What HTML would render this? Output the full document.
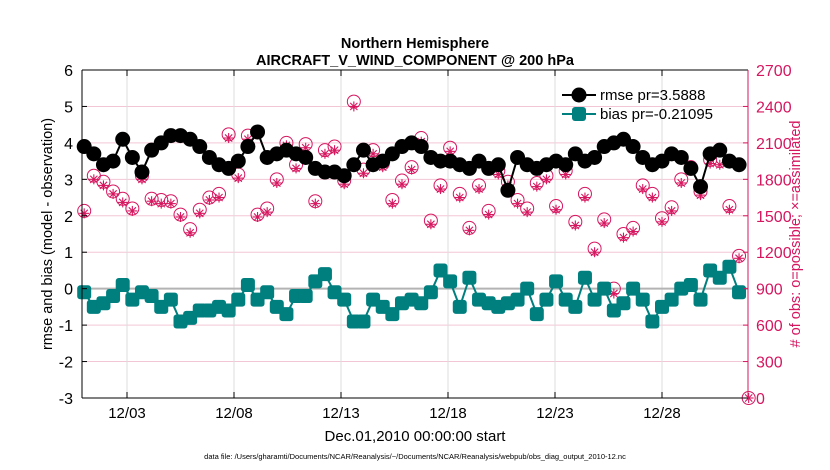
<!DOCTYPE html>
<html><head><meta charset="utf-8"><style>
html,body{margin:0;padding:0;background:#fff;}
svg{display:block;font-family:"Liberation Sans",sans-serif;}
</style></head><body>
<svg id="chart" width="830" height="470" viewBox="0 0 830 470">
<rect width="830" height="470" fill="#fff"/>
<text x="415" y="48" text-anchor="middle" font-size="14.5" font-weight="bold">Northern Hemisphere</text>
<text x="415" y="65" text-anchor="middle" font-size="14.5" font-weight="bold">AIRCRAFT_V_WIND_COMPONENT @ 200 hPa</text>
<g id="grid"></g>
<g id="series"></g>
<g id="axes"></g>
<text transform="translate(52,234) rotate(-90)" text-anchor="middle" font-size="14.5">rmse and bias (model - observation)</text>
<text transform="translate(800,234) rotate(-90)" text-anchor="middle" font-size="14.5" fill="#d6165f"># of obs: o=possible; ×=assimilated</text>
<text x="415" y="441" text-anchor="middle" font-size="15">Dec.01,2010 00:00:00 start</text>
<text x="415" y="459" text-anchor="middle" font-size="7.5">data file: /Users/gharamti/Documents/NCAR/Reanalysis/~/Documents/NCAR/Reanalysis/webpub/obs_diag_output_2010-12.nc</text>
<g id="legend">
<line x1="562" y1="95" x2="596" y2="95" stroke="#000" stroke-width="2"/>
<circle cx="579" cy="95" r="7.5" fill="#000"/>
<text x="600" y="100" font-size="15">rmse pr=3.5888</text>
<line x1="562" y1="114" x2="596" y2="114" stroke="#007f7f" stroke-width="2"/>
<rect x="572" y="107" width="14" height="14" rx="3" fill="#007f7f"/>
<text x="600" y="119" font-size="15">bias pr=-0.21095</text>
</g>
</svg>
<script>
const xTickLabels = ["12/03","12/08","12/13","12/18","12/23","12/28"];
const xTickDays = [2,7,12,17,22,27];
const leftTicks = [-3,-2,-1,0,1,2,3,4,5,6];
const rightTicks = [0,300,600,900,1200,1500,1800,2100,2400,2700];
const stepDays = 0.45;
const rmse = [3.9,3.7,3.4,3.5,4.1,3.6,3.2,3.8,4.0,4.2,4.2,4.1,3.9,3.6,3.4,3.3,3.5,3.9,4.3,3.6,3.7,3.8,3.7,3.6,3.3,3.2,3.2,3.1,3.4,3.8,3.4,3.5,3.7,3.9,4.0,3.9,3.6,3.5,3.5,3.4,3.3,3.5,3.3,3.4,2.7,3.6,3.4,3.3,3.4,3.5,3.4,3.7,3.5,3.6,3.9,4.0,4.1,3.9,3.6,3.4,3.5,3.7,3.6,3.3,2.8,3.7,3.8,3.5,3.4];
const bias = [-0.1,-0.5,-0.4,-0.2,0.1,-0.3,-0.1,-0.2,-0.5,-0.3,-0.9,-0.8,-0.6,-0.6,-0.5,-0.6,-0.3,0.1,-0.3,-0.1,-0.5,-0.7,-0.2,-0.2,0.2,0.4,-0.1,-0.3,-0.9,-0.9,-0.3,-0.5,-0.7,-0.4,-0.3,-0.4,-0.1,0.5,0.2,-0.5,0.3,-0.3,-0.4,-0.5,-0.4,-0.3,0.0,-0.7,-0.3,0.2,-0.3,-0.5,0.3,-0.3,0.0,-0.6,-0.4,0.0,-0.3,-0.9,-0.5,-0.3,0.0,0.1,-0.3,0.5,0.3,0.6,-0.1];
const obsPossible = [1540,1830,1780,1700,1640,1560,1830,1640,1630,1620,1510,1390,1550,1650,1680,2170,1840,2160,1510,1560,1800,2100,1920,2090,1620,2040,2070,1790,2440,1880,2040,1930,1630,1790,1900,2140,1460,1750,2060,1680,1400,1750,1540,1870,1780,1630,1560,1770,1830,1580,1870,1450,1680,1230,1470,900,1350,1400,1750,1680,1480,1570,1800,1900,1700,1960,1950,1580,1170,0];
const obsAssim = [1520,1800,1750,1680,1610,1540,1800,1620,1600,1600,1490,1360,1520,1630,1650,2140,1810,2130,1490,1530,1770,2080,1890,2060,1600,2010,2040,1760,2400,1850,2010,1900,1600,1760,1880,2110,1430,1720,2030,1650,1380,1720,1510,1840,1750,1600,1530,1740,1800,1550,1840,1420,1650,1200,1440,860,1320,1370,1720,1650,1450,1540,1770,1870,1670,1930,1920,1550,1150,0];

const NS="http://www.w3.org/2000/svg";
const L=82,R=748,T=70,B=398;
const x0px=84.2, pxPerDay=21.4;
const xS=d=>x0px+d*pxPerDay;
const yL=v=>B-(v+3)/9*(B-T);
const yR=v=>B-v/2700*(B-T);
function mk(tag,attrs,parent){const e=document.createElementNS(NS,tag);for(const k in attrs)e.setAttribute(k,attrs[k]);parent.appendChild(e);return e;}
const grid=document.getElementById('grid'),axes=document.getElementById('axes'),ser=document.getElementById('series');

rightTicks.forEach(v=>{
  const y=yR(v);
  if(v>0&&v<2700){const g=mk('line',{x1:L,x2:R,y1:y,y2:y,stroke:'#f3c6d6','stroke-width':1},grid);
  
  }
  mk('line',{x1:R,x2:R-5,y1:y,y2:y,stroke:'#d6165f'},axes);
  const t=mk('text',{x:R+8,y:y+6,'font-size':16,fill:'#d6165f'},axes);t.textContent=v;
  
  
});
xTickDays.forEach((d,i)=>{
  const x=xS(d);
  const g=mk('line',{x1:x,x2:x,y1:T,y2:B,stroke:'#dddddd'},grid);
  
  
  mk('line',{x1:x,x2:x,y1:B,y2:B-6,stroke:'#000'},axes);
  mk('line',{x1:x,x2:x,y1:T,y2:T+6,stroke:'#000'},axes);
  const t=mk('text',{x:x,y:B+20,'font-size':15,'text-anchor':'middle'},axes);t.textContent=xTickLabels[i];
  
  
});
leftTicks.forEach(v=>{
  const y=yL(v);
  mk('line',{x1:L,x2:L+5,y1:y,y2:y,stroke:'#000'},axes);
  const t=mk('text',{x:L-9,y:y+6,'font-size':16,'text-anchor':'end'},axes);t.textContent=v;
  
  
});
const zl=mk('line',{x1:L,x2:R,y1:yL(0),y2:yL(0),stroke:'#b3b3b3','stroke-width':2},grid);


mk('line',{x1:L,x2:R,y1:B,y2:B,stroke:'#000'},axes);
mk('line',{x1:L,x2:R,y1:T,y2:T,stroke:'#000'},axes);
mk('line',{x1:L,x2:L,y1:T,y2:B,stroke:'#000'},axes);
mk('line',{x1:R,x2:R,y1:T,y2:B,stroke:'#d6165f'},axes);

obsPossible.forEach((v,i)=>{
  const x=xS(i*stepDays),y=yR(v);
  const c=mk('circle',{cx:x,cy:y,r:6.5,fill:'none',stroke:'#d6165f','stroke-width':1},ser);
  
  
});
obsAssim.forEach((v,i)=>{
  const x=xS(i*stepDays),y=yR(v);
  const g=mk('g',{stroke:'#d6165f','stroke-width':1.1},ser);
  
  
  const s=5;
  mk('line',{x1:x-s,x2:x+s,y1:y,y2:y},g);
  mk('line',{x1:x,x2:x,y1:y-s,y2:y+s},g);
  mk('line',{x1:x-3.6,x2:x+3.6,y1:y-3.6,y2:y+3.6},g);
  mk('line',{x1:x-3.6,x2:x+3.6,y1:y+3.6,y2:y-3.6},g);
});
const rp=rmse.map((v,i)=>xS(i*stepDays)+','+yL(v)).join(' ');
const rl=mk('polyline',{points:rp,fill:'none',stroke:'#000','stroke-width':2},ser);


rmse.forEach((v,i)=>{
  const c=mk('circle',{cx:xS(i*stepDays),cy:yL(v),r:7.5,fill:'#000'},ser);
  
  
});
const bp=bias.map((v,i)=>xS(i*stepDays)+','+yL(v)).join(' ');
const bl=mk('polyline',{points:bp,fill:'none',stroke:'#007f7f','stroke-width':2},ser);


bias.forEach((v,i)=>{
  const r=mk('rect',{x:xS(i*stepDays)-7,y:yL(v)-7,width:14,height:14,rx:3,fill:'#007f7f'},ser);
  
  
});
</script>
</body></html>
